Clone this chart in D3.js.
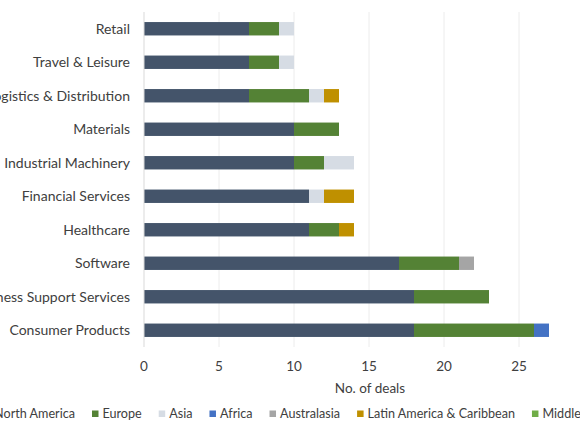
<!DOCTYPE html>
<html>
<head>
<meta charset="utf-8">
<script src="https://cdn.jsdelivr.net/npm/d3@7"></script>
<style>
  body { margin: 0; background: #fff; overflow: hidden; }
  svg { display: block; font-family: Lato, "Open Sans", sans-serif; }
</style>
</head>
<body>
<div id="chart"></div>
<script>
// sectors, top to bottom
var sectors = ["Retail", "Travel & Leisure", "Logistics & Distribution", "Materials",
  "Industrial Machinery", "Financial Services", "Healthcare", "Software",
  "Business Support Services", "Consumer Products"];

var regions = ["North America", "Europe", "Asia", "Africa", "Australasia",
  "Latin America & Caribbean", "Middle East"];

// deals per region, same order as sectors
var northAmerica = [7, 7, 7, 10, 10, 11, 11, 17, 18, 18];
var europe       = [2, 2, 4, 3, 2, 0, 2, 4, 5, 8];
var asia         = [1, 1, 1, 0, 2, 1, 0, 0, 0, 0];
var africa       = [0, 0, 0, 0, 0, 0, 0, 0, 0, 1];
var australasia  = [0, 0, 0, 0, 0, 0, 0, 1, 0, 0];
var latinAmerica = [0, 0, 1, 0, 0, 2, 1, 0, 0, 0];
var middleEast   = [0, 0, 0, 0, 0, 0, 0, 0, 0, 0];

var xTicks = [0, 5, 10, 15, 20, 25];

var colors = ["#44546A", "#548235", "#D6DCE4", "#4472C4", "#A5A5A5", "#BF9000", "#70AD47"];

var svgWidth = 580, svgHeight = 435;
var margin = {top: 12, right: 0, bottom: 88, left: 144};

var svg = d3.select("#chart").append("svg")
  .attr("width", svgWidth)
  .attr("height", svgHeight);

// build rows for the stack
var series = [northAmerica, europe, asia, africa, australasia, latinAmerica, middleEast];
var rows = sectors.map(function(s, i) {
  var r = {sector: s};
  regions.forEach(function(reg, j) { r[reg] = series[j][i]; });
  return r;
});
var stacked = d3.stack().keys(regions)(rows);

var x = d3.scaleLinear().domain([0, 30]).range([margin.left, margin.left + 450]);
var y = d3.scaleBand().domain(sectors)
  .range([margin.top, svgHeight - margin.bottom])
  .paddingInner(0.6).paddingOuter(0.3);

// gridlines
svg.append("g").selectAll("line")
  .data(xTicks.slice(1))
  .enter().append("line")
  .attr("x1", d => x(d)).attr("x2", d => x(d))
  .attr("y1", margin.top).attr("y2", svgHeight - margin.bottom)
  .attr("stroke", "#ececec").attr("stroke-width", 1);

// bars
svg.append("g").selectAll("g")
  .data(stacked)
  .enter().append("g")
  .attr("fill", (d, i) => colors[i])
  .selectAll("rect")
  .data(d => d.filter(p => p[1] > p[0]))
  .enter().append("rect")
  .attr("x", d => x(d[0]))
  .attr("width", d => x(d[1]) - x(d[0]))
  .attr("y", d => y(d.data.sector))
  .attr("height", y.bandwidth());

// y axis line
svg.append("line")
  .attr("x1", x(0)).attr("x2", x(0))
  .attr("y1", margin.top).attr("y2", svgHeight - margin.bottom)
  .attr("stroke", "#d9d9d9");

// y labels
svg.append("g").selectAll("text")
  .data(sectors)
  .enter().append("text")
  .attr("x", 130)
  .attr("y", d => y(d) + y.bandwidth() / 2)
  .attr("dy", "0.35em")
  .attr("text-anchor", "end")
  .attr("font-size", 14)
  .attr("fill", "#404040")
  .text(d => d);

// x tick labels
svg.append("g").selectAll("text")
  .data(xTicks)
  .enter().append("text")
  .attr("x", d => x(d))
  .attr("y", 366)
  .attr("dy", "0.35em")
  .attr("text-anchor", "middle")
  .attr("font-size", 13.5)
  .attr("fill", "#404040")
  .text(d => d);

// axis title
svg.append("text")
  .attr("x", 370)
  .attr("y", 388)
  .attr("dy", "0.35em")
  .attr("text-anchor", "middle")
  .attr("font-size", 13.5)
  .attr("fill", "#404040")
  .text("No. of deals");

// legend
var legend = svg.append("g");
var items = legend.selectAll("g").data(regions).enter().append("g");
items.append("rect")
  .attr("width", 6.5).attr("height", 6.5)
  .attr("y", 410.5)
  .attr("fill", (d, i) => colors[i]);
items.append("text")
  .attr("x", 10.5)
  .attr("y", 414)
  .attr("dy", "0.35em")
  .attr("font-size", 12.6)
  .attr("fill", "#404040")
  .text(d => d);

var gap = 17, pos = [], cur = 0;
items.each(function(d, i) {
  pos.push(cur);
  cur += 10.5 + d3.select(this).select("text").node().getComputedTextLength() + gap;
});
var shift = 92 - pos[1];
items.attr("transform", (d, i) => `translate(${pos[i] + shift},0)`);
</script>
</body>
</html>
